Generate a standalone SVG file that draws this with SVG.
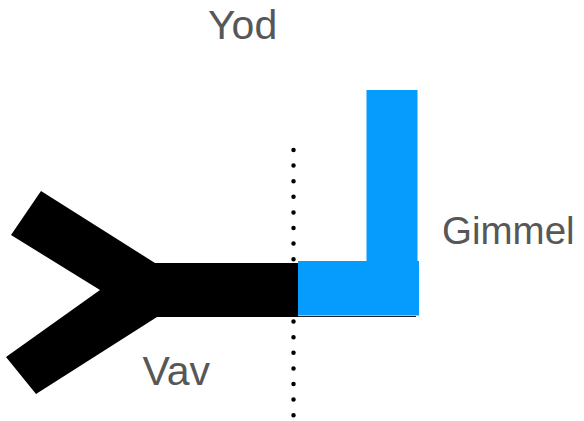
<svg xmlns="http://www.w3.org/2000/svg" width="584" height="421" viewBox="0 0 584 421">
  <style>
    .label { font-family: "Liberation Sans", Arial, sans-serif; fill: #575757; }
    .blue { fill: #069CFE; }
    .black { fill: #000000; }
  </style>
  <rect x="0" y="0" width="584" height="421" fill="#ffffff"/>
  <g id="yod">
    <text class="label" x="208" y="38.5" font-size="41">Yod</text>
  </g>
  <g id="vav">
    <polygon class="black" points="41,191 155,263 298,263 298,317 157,317 36,394 6,357 100,290 11,235"/>
    <text class="label" x="142.5" y="385" font-size="41">Vav</text>
  </g>
  <g id="gimmel">
    <rect class="blue" x="366.5" y="90" width="51" height="175"/>
    <rect class="blue" x="298" y="261" width="121" height="54.5"/>
    <text class="label" x="442" y="243.5" font-size="38.5">Gimmel</text>
  </g>
  <g id="connectors">
    <line x1="298" y1="316.5" x2="416" y2="316.5" stroke="#222" stroke-width="1"/>
    <line id="divider" x1="293.5" y1="150" x2="293.5" y2="416" stroke="#000" stroke-width="4.5" stroke-linecap="round" stroke-dasharray="0 15.6"/>
  </g>
</svg>
